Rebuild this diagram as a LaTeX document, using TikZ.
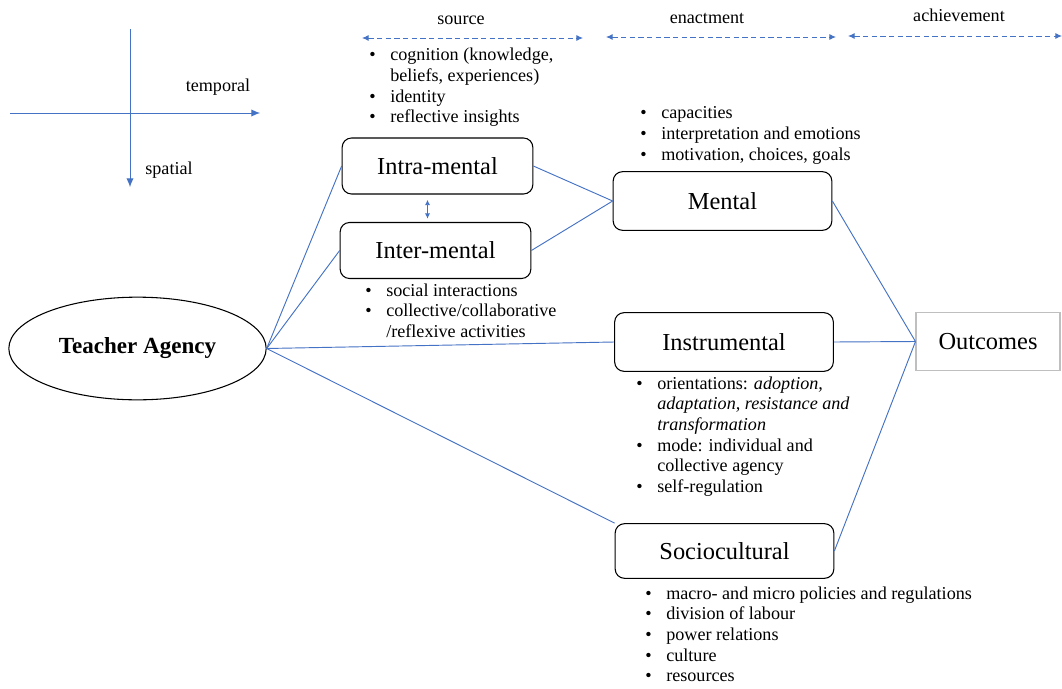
\documentclass[tikz,border=0pt]{standalone}
\usepackage{fontspec}
\setmainfont{Liberation Serif}
\usetikzlibrary{shapes.geometric,arrows.meta}
\definecolor{lnblue}{RGB}{68,114,196}
\newcommand{\bl}{\textbullet}
\tikzset{
  box/.style={draw,rounded corners=7pt,minimum height=44pt,line width=0.8pt,font=\fontsize{18.3}{21}\selectfont},
  lst/.style={anchor=base west,inner sep=0pt,font=\fontsize{13.6}{15.5}\selectfont},
  lbl/.style={font=\fontsize{13.6}{16}\selectfont},
  link/.style={lnblue,line width=0.7pt},
  tip/.style={-{Latex[length=6.5pt,width=5.5pt]}},
  phase/.style={lnblue,line width=0.7pt,dash pattern=on 4pt off 2.5pt,{Latex[length=5pt,width=4.5pt]}-{Latex[length=5pt,width=4.5pt]}}
}
\begin{document}
\begin{tikzpicture}[x=0.75pt,y=-0.75pt]
\useasboundingbox (0,0) rectangle (1062,688);
% axes
\coordinate (ttop) at (130,29);
\coordinate (tbot) at (130,187);
\coordinate (tlft) at (10,113);
\coordinate (trgt) at (260,113);
\draw[link,tip] (ttop) -- (tbot);
\draw[link,tip] (tlft) -- (trgt);
\node[lbl] (temporal) at (218,87) {temporal};
\node[lbl] (spatial) at (169,170) {spatial};

% phases
\node[lbl] (source) at (461,20) {source};
\node[lbl] (enact) at (707,18) {enactment};
\node[lbl] (achieve) at (959,15) {achievement};
\coordinate (s1) at (362,38); \coordinate (s2) at (583,38);
\coordinate (e1) at (606,37); \coordinate (e2) at (836,37);
\coordinate (a1) at (848,36); \coordinate (a2) at (1062,36);
\draw[phase] (s1) -- (s2);
\draw[phase] (e1) -- (e2);
\draw[phase] (a1) -- (a2);

% nodes
\node[draw,ellipse,line width=0.8pt,minimum width=193pt,minimum height=77pt,font=\fontsize{17.3}{20}\selectfont\bfseries] (agency) at (137.5,348.5) {Teacher Agency};
\node[box,minimum width=143pt,minimum height=42pt] (intra) at (437.5,166) {Intra-mental};
\node[box,minimum width=143pt,minimum height=42pt] (inter) at (435.5,250.5) {Inter-mental};
\node[box,minimum width=164pt] (mental) at (722.5,201) {Mental};
\node[box,minimum width=164pt] (instr) at (724,342) {Instrumental};
\node[box,minimum width=164pt,minimum height=41pt] (socio) at (724.5,551) {Sociocultural};
\node[draw=black!25,line width=0.8pt,minimum width=108pt,minimum height=44pt,font=\fontsize{18.3}{21}\selectfont] (outcomes) at (988,341.5) {Outcomes};

% connectors
\draw[link] (agency.east) -- (intra.west);
\draw[link] (agency.east) -- (inter.west);
\draw[link] (agency.east) -- (instr.west);
\draw[link] (agency.east) -- (socio.north west);
\draw[link] (intra.east) -- (mental.west);
\draw[link] (inter.east) -- (mental.west);
\draw[link] (mental.east) -- (outcomes.west);
\draw[link] (instr.east) -- (outcomes.west);
\draw[link] (socio.east) -- (outcomes.west);
\draw[link,{Latex[length=4pt,width=4pt]}-{Latex[length=4pt,width=4pt]}] ([xshift=-7.5pt,yshift=-4pt]intra.south) -- ([xshift=-6pt,yshift=2.5pt]inter.north);

% lists
\node[lst] (srclist) at (369,61) {\begin{tabular}[t]{@{}l@{\hspace{11pt}}l@{}}
\bl & cognition (knowledge,\\
 & beliefs, experiences)\\
\bl & identity\\
\bl & reflective insights
\end{tabular}};
\node[lst] (mentlist) at (640,119) {\begin{tabular}[t]{@{}l@{\hspace{11pt}}l@{}}
\bl & capacities\\
\bl & interpretation and emotions\\
\bl & motivation, choices, goals
\end{tabular}};
\node[lst] (interlist) at (365,296) {\begin{tabular}[t]{@{}l@{\hspace{11pt}}l@{}}
\bl & social interactions\\
\bl & collective/collaborative\\
 & /reflexive activities
\end{tabular}};
\node[lst] (instrlist) at (636,389) {\begin{tabular}[t]{@{}l@{\hspace{11pt}}l@{}}
\bl & orientations: \textit{adoption,}\\
 & \textit{adaptation, resistance and}\\
 & \textit{transformation}\\
\bl & mode: individual and\\
 & collective agency\\
\bl & self-regulation
\end{tabular}};
\node[lst] (sociolist) at (645,599) {\begin{tabular}[t]{@{}l@{\hspace{11pt}}l@{}}
\bl & macro- and micro policies and regulations\\
\bl & division of labour\\
\bl & power relations\\
\bl & culture\\
\bl & resources
\end{tabular}};
\end{tikzpicture}
\end{document}
